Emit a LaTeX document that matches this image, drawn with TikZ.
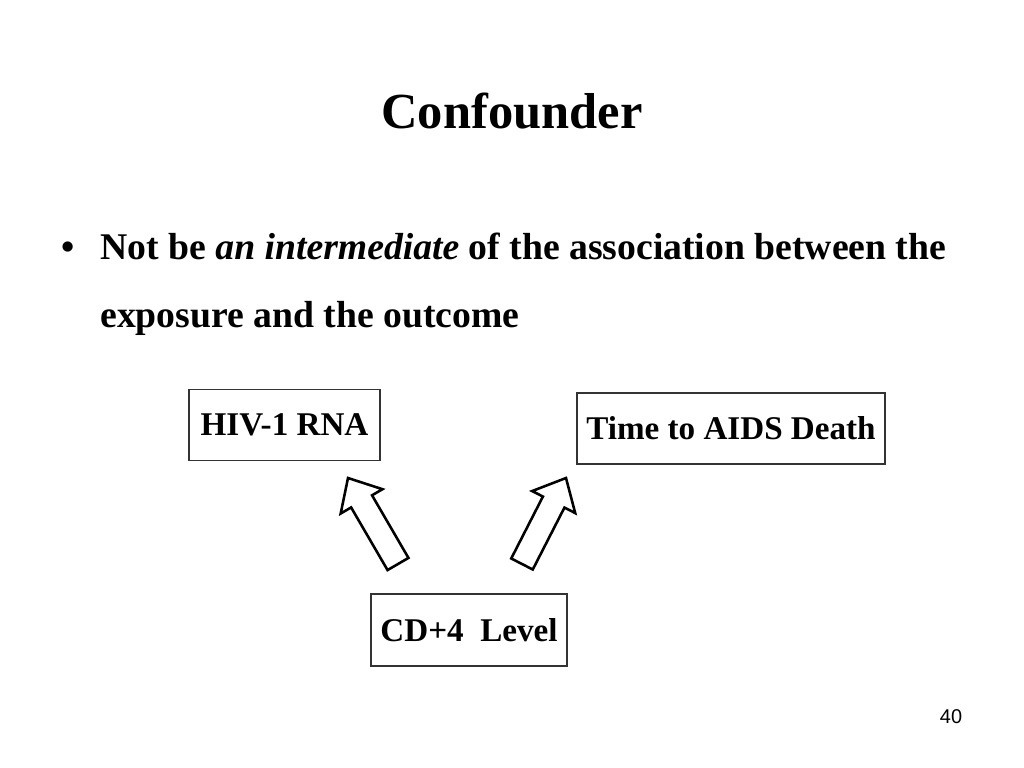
\documentclass[tikz,border=0pt]{standalone}
\usepackage{fontspec}
\setmainfont{Liberation Serif}
\setsansfont{Liberation Sans}
\usetikzlibrary{calc}
\begin{document}
\begin{tikzpicture}[x=0.703pt,y=-0.703pt,
  txt/.style={inner sep=0pt,font=\bfseries\fontsize{26.5}{32}\selectfont},
  boxnode/.style={draw=black!80,line width=0.75pt,inner sep=0pt,
    font=\bfseries\fontsize{23.3}{28}\selectfont},
  blk/.style={draw=black,line width=1.8pt,line join=miter,fill=white}]
\useasboundingbox (0,0) rectangle (1024,768);
\fill[white] (0,0) rectangle (1024,768);
% title
\node[inner sep=0pt,anchor=base,font=\bfseries\fontsize{35.5}{42}\selectfont] (title) at (512,128) {Confounder};
% bullet
\node[txt,anchor=base] (bul) at (68,259) {\textbullet};
\node[txt,anchor=base west] (l1) at (100,259) {Not be \textit{an intermediate} of the association between the};
\node[txt,anchor=base west] (l2) at (100,327) {exposure and the outcome};
% boxes
\node[boxnode,minimum width=191*0.703pt,minimum height=71*0.703pt] (hiv) at (284.5,425) {HIV-1 RNA};
\node[boxnode,minimum width=308*0.703pt,minimum height=71*0.703pt] (aids) at (731,428.5) {Time to AIDS Death};
\node[boxnode,minimum width=196*0.703pt,minimum height=72*0.703pt] (cd) at (469,630) {CD+4\ \ Level};
% block arrows
\coordinate (lt) at (398,564);
\coordinate (lh) at (348,478);
\coordinate (rt) at (522,564);
\coordinate (rh) at (566,478);
\path ($(lh)!19pt!(lt)$) coordinate (lb);
\path ($(rh)!19pt!(rt)$) coordinate (rb);
\draw[blk] ($(lt)!8.5pt!90:(lh)$) -- ($(lb)!8.5pt!90:(lh)$) -- ($(lb)!17pt!90:(lh)$) -- (lh)
  -- ($(lb)!17pt!-90:(lh)$) -- ($(lb)!8.5pt!-90:(lh)$) -- ($(lt)!8.5pt!-90:(lh)$) -- cycle;
\draw[blk] ($(rt)!8.5pt!90:(rh)$) -- ($(rb)!8.5pt!90:(rh)$) -- ($(rb)!17pt!90:(rh)$) -- (rh)
  -- ($(rb)!17pt!-90:(rh)$) -- ($(rb)!8.5pt!-90:(rh)$) -- ($(rt)!8.5pt!-90:(rh)$) -- cycle;
% page number
\node[inner sep=0pt,anchor=base,font=\sffamily\fontsize{14}{17}\selectfont] (pg) at (951,723) {40};
\end{tikzpicture}
\end{document}
